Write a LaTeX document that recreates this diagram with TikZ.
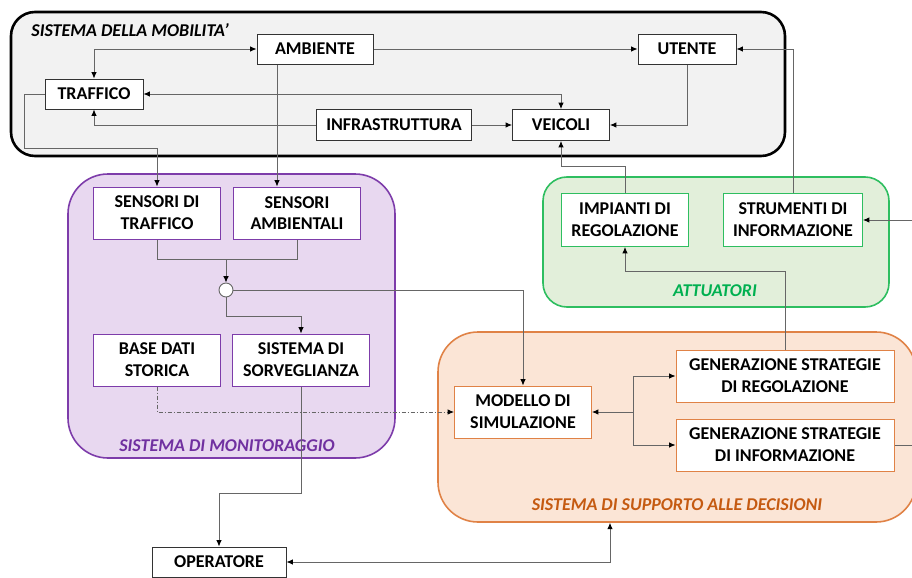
\documentclass[tikz,border=0pt]{standalone}
\usepackage{fontspec}
\setmainfont{Carlito}
\usetikzlibrary{arrows.meta}

\definecolor{grigioSfondo}{RGB}{242,242,242}
\definecolor{violaSfondo}{RGB}{232,216,240}
\definecolor{violaBordo}{RGB}{125,60,170}
\definecolor{violaTesto}{RGB}{112,48,160}
\definecolor{verdeSfondo}{RGB}{226,239,218}
\definecolor{verdeBordo}{RGB}{46,190,96}
\definecolor{verdeTesto}{RGB}{0,176,80}
\definecolor{aranSfondo}{RGB}{251,229,214}
\definecolor{aranBordo}{RGB}{224,130,70}
\definecolor{aranTesto}{RGB}{197,90,17}

\begin{document}
\begin{tikzpicture}[
        x=0.5pt, y=-0.5pt,
        every node/.style={font=\bfseries\fontsize{9}{10.9}\selectfont, align=center, inner sep=0pt},
        blocco/.style={draw=black!80, fill=white, line width=0.5pt, minimum height=15pt},
        bloccoViola/.style={blocco, draw=violaBordo, minimum width=63.5pt, minimum height=26pt},
        bloccoVerde/.style={blocco, draw=verdeBordo, minimum height=26.5pt},
        bloccoAran/.style={blocco, draw=aranBordo, minimum height=26pt},
        gruppo/.style={rounded corners=20pt, line width=0.8pt},
        titolo/.style={font=\bfseries\itshape\fontsize{9}{10.9}\selectfont},
        link/.style={draw=black!60, line width=0.45pt, -{Latex[length=3.2pt,width=2.8pt,color=black]}},
        doppio/.style={link, {Latex[length=3.2pt,width=2.8pt,color=black]}-{Latex[length=3.2pt,width=2.8pt,color=black]}},
        linea/.style={draw=black!60, line width=0.45pt}
        ]
        \clip (0,0) rectangle (912,578);

        % gruppi
        \node[gruppo, draw=black, fill=grigioSfondo, line width=1.3pt, rounded corners=12pt,
              minimum width=387pt, minimum height=72pt] (mobilita) at (398,84) {};
        \node[gruppo, draw=violaBordo, fill=violaSfondo, minimum width=163.5pt, minimum height=142pt] (monit) at (231.5,316) {};
        \node[gruppo, draw=verdeBordo, fill=verdeSfondo, rounded corners=12pt, minimum width=173pt, minimum height=65pt] (attuatori) at (716,242) {};
        \node[gruppo, draw=aranBordo, fill=aranSfondo, minimum width=239pt, minimum height=95pt] (supporto) at (677,427) {};

        \node[titolo, anchor=west] (tMob) at (31,30) {SISTEMA DELLA MOBILITA'};
        \node[titolo, text=violaTesto] (tMonit) at (227,446) {SISTEMA DI MONITORAGGIO};
        \node[titolo, text=verdeTesto] (tAtt) at (715,291) {ATTUATORI};
        \node[titolo, text=aranTesto] (tSup) at (677,505) {SISTEMA DI SUPPORTO ALLE DECISIONI};

        % sistema della mobilita'
        \node[blocco, minimum width=58pt] (ambiente) at (315,49) {AMBIENTE};
        \node[blocco, minimum width=49pt] (utente) at (687,49) {UTENTE};
        \node[blocco, minimum width=49pt] (traffico) at (94,94) {TRAFFICO};
        \node[blocco, minimum width=77.5pt, minimum height=15.5pt] (infra) at (394,125) {INFRASTRUTTURA};
        \node[blocco, minimum width=48.5pt, minimum height=15.5pt] (veicoli) at (561,125) {VEICOLI};

        % monitoraggio
        \node[bloccoViola] (sensTraf) at (157,213) {SENSORI DI\\TRAFFICO};
        \node[bloccoViola] (sensAmb) at (297,213) {SENSORI\\AMBIENTALI};
        \node[circle, draw=black!60, fill=white, line width=0.45pt, minimum size=7pt] (nodo) at (226,290) {};
        \node[bloccoViola] (baseDati) at (157,360) {BASE DATI\\STORICA};
        \node[bloccoViola, minimum width=68.5pt] (sorv) at (301,360) {SISTEMA DI\\SORVEGLIANZA};

        % attuatori
        \node[bloccoVerde, minimum width=63.5pt] (impianti) at (625,220) {IMPIANTI DI\\REGOLAZIONE};
        \node[bloccoVerde, minimum width=69.5pt] (strumenti) at (793,220) {STRUMENTI DI\\INFORMAZIONE};

        % supporto alle decisioni
        \node[bloccoAran, minimum width=68.5pt] (modello) at (523,412) {MODELLO DI\\SIMULAZIONE};
        \node[bloccoAran, minimum width=109pt] (genReg) at (785,376) {GENERAZIONE STRATEGIE\\DI REGOLAZIONE};
        \node[bloccoAran, minimum width=109pt] (genInfo) at (785,445) {GENERAZIONE STRATEGIE\\DI INFORMAZIONE};

        \node[blocco, minimum width=67pt] (operatore) at (219,562) {OPERATORE};

        % collegamenti
        \draw[doppio] (traffico.north) |- (ambiente.west);
        \draw[link] (ambiente.east) -- (utente.west);
        \draw[doppio] (traffico.east) -| (veicoli.north);
        \draw[link] (infra.west) -| (traffico.south);
        \draw[link] (infra.east) -- (veicoli.west);
        \draw[link] (utente.south) |- (veicoli.east);
        \draw[link] (traffico.west) -- ++(-20,0) -- ++(0,54) -| (sensTraf.north);
        \draw[link] ([xshift=-19pt]ambiente.south) -- ([xshift=-19pt]ambiente.south |- sensAmb.north);
        \draw[link] (strumenti.north) |- (utente.east);
        \draw[link] (impianti.north) -- ++(0,-27) -| (veicoli.south);

        \draw[linea] (sensTraf.south) -- ++(0,20) coordinate (giunto) -| (sensAmb.south);
        \draw[link] (giunto -| nodo.north) -- (nodo.north);
        \draw[link] (nodo.south) -- ++(0,19) -| (sorv.north);
        \draw[link] (nodo.east) -| (modello.north);
        \draw[link, dash pattern=on 2pt off 1pt on 0.5pt off 1pt] (baseDati.south) |- (modello.west);
        \draw[link] (sorv.south) -- ++(0,107) -| (operatore.north);
        \draw[doppio] (operatore.east) -| ([xshift=-33.5pt]supporto.south);

        \coordinate (forca) at ([xshift=-21pt]genReg.west |- modello.east);
        \draw[link] (forca) -- (modello.east);
        \draw[link] (forca) |- (genReg.west);
        \draw[link] (forca) |- (genInfo.west);
        \draw[link] (genReg.north) -- ++(0,-78) -| (impianti.south);
        \draw[link] (genInfo.east) -- ++(30,0) |- (strumenti.east);
\end{tikzpicture}
\end{document}
